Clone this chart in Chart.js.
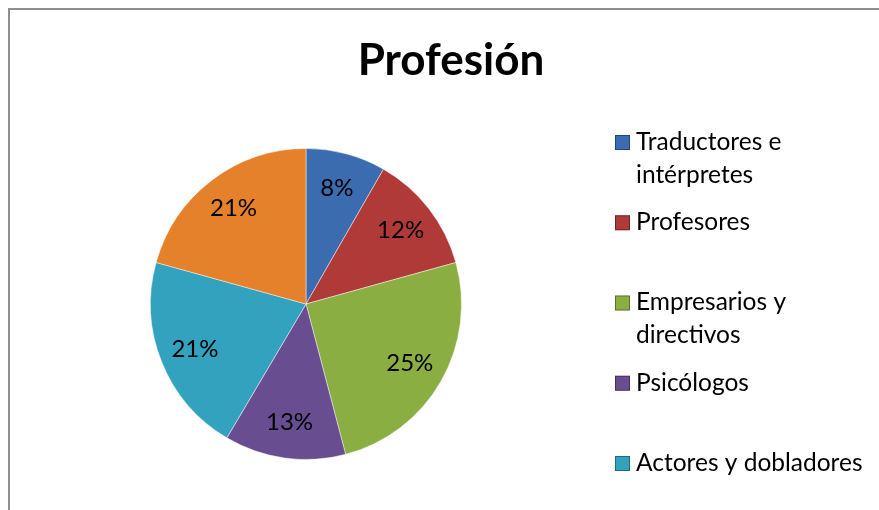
<html>
<script src="https://cdn.jsdelivr.net/npm/chart.js"></script>

<body style="margin:0;background:#fff">

    <canvas id="myChart" width="879" height="510"></canvas>

    <script>
        // chart data
        const chartTitle = "Profesión";
        const categories = ["Traductores e intérpretes", "Profesores", "Empresarios y directivos", "Psicólogos", "Actores y dobladores", "Otros"];
        const legendLines = [["Traductores e", "intérpretes"], ["Profesores"], ["Empresarios y", "directivos"], ["Psicólogos"], ["Actores y dobladores"], ["Otros"]];
        const values = [8.3, 12.4, 25.2, 12.6, 20.8, 20.7];
        const percentLabels = ["8%", "12%", "25%", "13%", "21%", "21%"];
        const sliceColors = ["#3B6CB0", "#B03A38", "#8BAE43", "#694D91", "#33A2BF", "#E5802B"];

        const fontFamily = "Lato, 'Open Sans', sans-serif";

        // draws frame, title, slice labels and the legend
        const decor = {
            id: 'decor',
            beforeDraw(chart) {
                const ctx = chart.ctx;
                ctx.save();
                ctx.fillStyle = '#fff';
                ctx.fillRect(0, 0, chart.width, chart.height);
                ctx.strokeStyle = '#8e8e8e';
                ctx.lineWidth = 2;
                ctx.beginPath();
                ctx.moveTo(9, chart.height);
                ctx.lineTo(9, 9);
                ctx.lineTo(chart.width, 9);
                ctx.stroke();
                ctx.restore();
            },
            afterDraw(chart) {
                const ctx = chart.ctx;
                ctx.save();

                // title
                ctx.fillStyle = '#000';
                ctx.textAlign = 'center';
                ctx.textBaseline = 'middle';
                ctx.font = "bold 44px " + fontFamily;
                ctx.fillText(chartTitle, 451, 61);

                // percent labels inside the slices
                ctx.font = "24px " + fontFamily;
                chart.getDatasetMeta(0).data.forEach((arc, i) => {
                    const p = arc.getProps(['x', 'y', 'startAngle', 'endAngle', 'outerRadius'], true);
                    const mid = (p.startAngle + p.endAngle) / 2;
                    const r = p.outerRadius * 0.77;
                    ctx.fillText(percentLabels[i], p.x + Math.cos(mid) * r, p.y + Math.sin(mid) * r);
                });

                // legend
                ctx.textAlign = 'left';
                ctx.font = "24.5px " + fontFamily;
                legendLines.forEach((lines, i) => {
                    const y = 142 + i * 80.25;
                    ctx.fillStyle = sliceColors[i];
                    ctx.fillRect(615, y - 7, 15, 15);
                    ctx.strokeStyle = 'rgba(0,0,0,0.35)';
                    ctx.lineWidth = 1;
                    ctx.strokeRect(615.5, y - 6.5, 14, 14);
                    ctx.fillStyle = '#000';
                    lines.forEach((t, j) => {
                        ctx.fillText(t, 636, y + j * 33);
                    });
                });

                ctx.restore();
            }
        };

        new Chart("myChart", {
            type: "pie",
            data: {
                labels: categories,
                datasets: [{
                    data: values,
                    backgroundColor: sliceColors,
                    borderColor: 'rgba(255,255,255,0.45)',
                    borderWidth: 1
                }]
            },
            options: {
                responsive: false,
                animation: false,
                layout: {
                    padding: { left: 150, right: 417, top: 148, bottom: 50 }
                },
                plugins: {
                    legend: { display: false },
                    tooltip: { enabled: false }
                }
            },
            plugins: [decor]
        });
    </script>

</body>

</html>
